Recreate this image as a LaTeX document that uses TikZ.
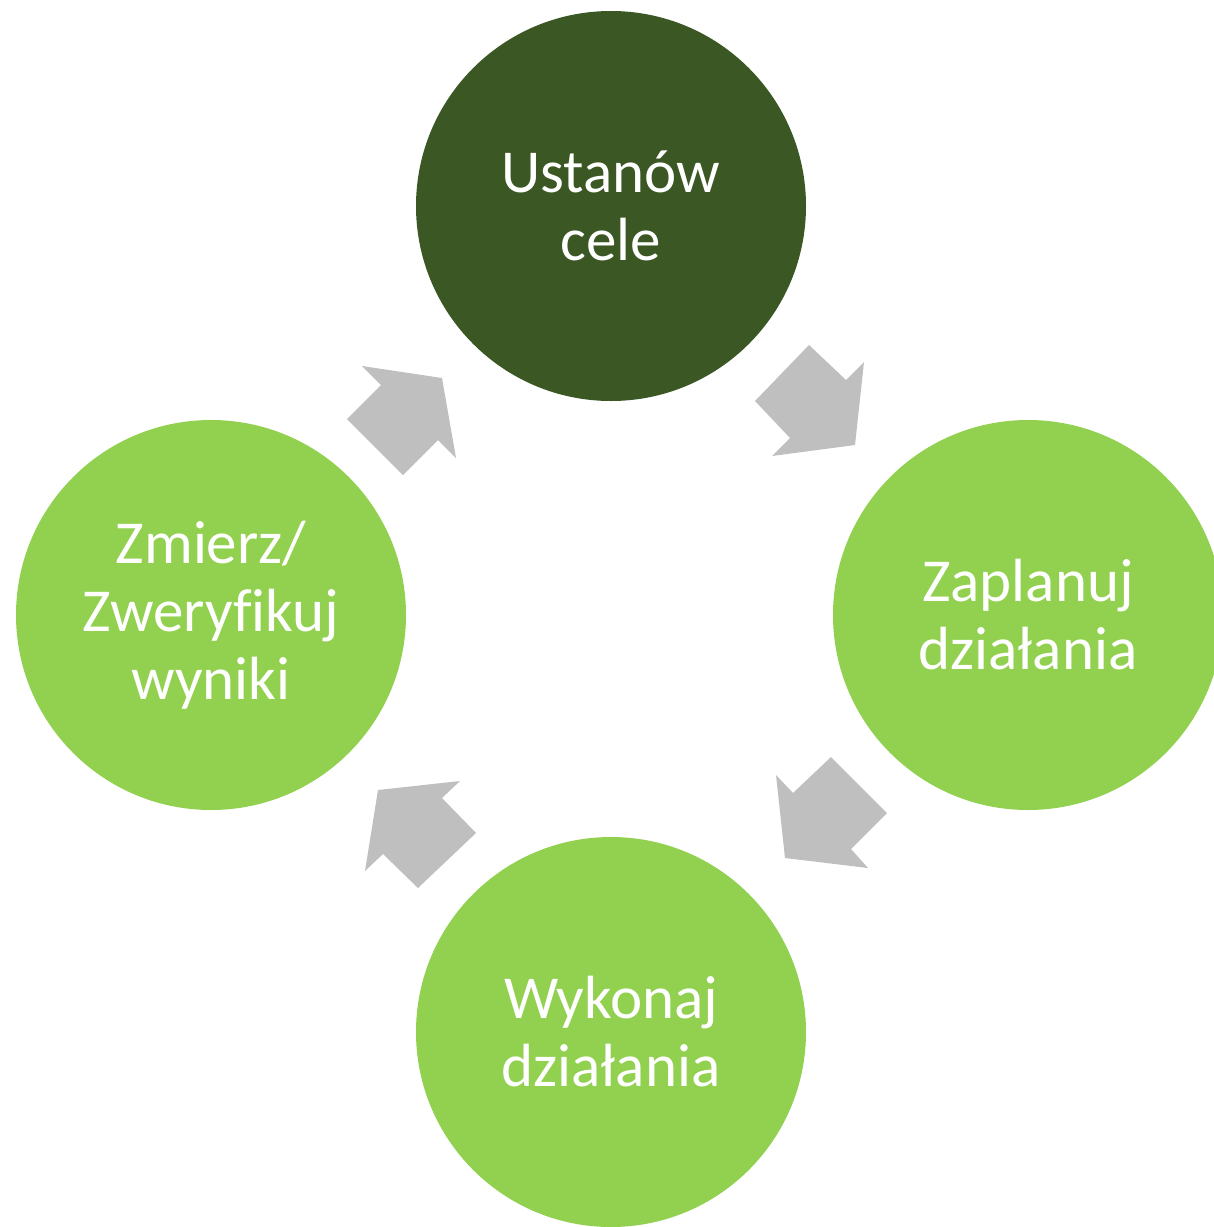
\documentclass[tikz,border=0pt]{standalone}
\usepackage{fontspec}
\setmainfont{Carlito}[Ligatures={NoCommon}]
\definecolor{darkgreen}{HTML}{3A5724}
\definecolor{lightgreen}{HTML}{92D050}
\definecolor{arrowgray}{HTML}{BFBFBF}
\tikzset{
  stage/.style={circle, inner sep=0pt, minimum size=390pt, fill=lightgreen,
    text=white, align=center, font=\fontsize{61}{68}\selectfont},
  stagedark/.style={stage, fill=darkgreen},
  blockarrow/.style={fill=arrowgray, draw=none}
}
\begin{document}
\begin{tikzpicture}[x=1pt,y=-1pt]
\useasboundingbox (0,0) rectangle (1214,1227);
\clip (0,0) rectangle (1214,1227);
\node[stagedark] (goal) at (611,206) {Ustanów\\cele};
\node[stage] (plan) at (1028,615) {Zaplanuj\\działania};
\node[stage] (exec) at (611,1032) {Wykonaj\\działania};
\node[stage] (meas) at (211,615) {Zmierz/\\Zweryfikuj\\wyniki};
% arrows between stages
\fill[blockarrow] (809,345) -- (846,380) -- (864,362) -- (855,445) -- (772,456) -- (790,438) -- (755,401) -- cycle;
\fill[blockarrow] (831,757) -- (887,813) -- (851,849) -- (868,868) -- (785,858) -- (776,775) -- (793,793) -- cycle;
\fill[blockarrow] (460,781) -- (442,798) -- (476,833) -- (418,888) -- (383,854) -- (365,871) -- (378,790) -- cycle;
\fill[blockarrow] (362,366) -- (442,378) -- (456,458) -- (438,440) -- (403,475) -- (347,419) -- (381,385) -- cycle;
\end{tikzpicture}
\end{document}
